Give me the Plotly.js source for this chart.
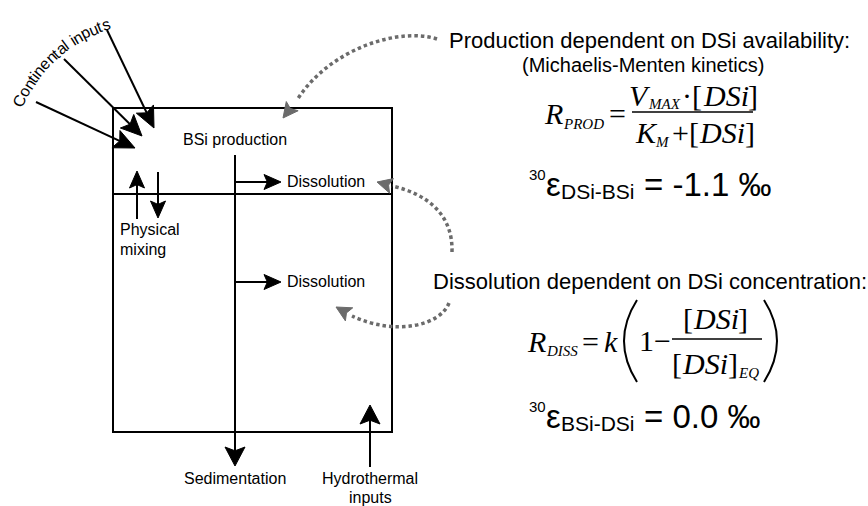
<!DOCTYPE html>
<html><head><meta charset="utf-8">
<script src="https://cdn.plot.ly/plotly-3.0.1.min.js"></script>
<style>html,body{margin:0;padding:0;background:#fff;} #chart{width:868px;height:506px;}</style>
</head><body><div id="chart"></div>
<script>
// ---- content (text) ----
const continentalLabel = "Continental inputs";
const boxLabels = ["BSi production", "Dissolution", "Dissolution"];
const mixingLabel = ["Physical", "mixing"];
const sedimentLabel = ["Sedimentation"];
const hydroLabel = ["Hydrothermal", "inputs"];
const productionNotes = ["Production dependent on DSi availability:", "(Michaelis-Menten kinetics)"];
const dissolutionNotes = ["Dissolution dependent on DSi concentration:"];
const prodSymbols = {lhs: "R", lhsSub: "PROD", vmax: "V", vmaxSub: "MAX", km: "K", kmSub: "M", conc: "DSi"};
const dissSymbols = {lhs: "R", lhsSub: "DISS", rate: "k", one: "1−", conc: "DSi", eqSub: "EQ"};
const epsilonIsotope = ["30", "30"];
const epsilonSubs = ["DSi-BSi", "BSi-DSi"];
const epsilonValues = [-1.1, 0.0];

// ---- drawing helpers ----
const SANS = "Liberation Sans, Arial, Helvetica, sans-serif";
const SERIF = "Liberation Serif, Times New Roman, serif";
const shapes = [], ann = [];
const ctx = document.createElement('canvas').getContext('2d');
function measure(text, size, family, italic) {
  ctx.font = (italic ? 'italic ' : '') + size + "px " + (family === SERIF ? "'Liberation Serif'" : "'Liberation Sans'");
  return ctx.measureText(text).width;
}
function seg(x0, y0, x1, y1, w, color) {
  shapes.push({type: 'line', xref: 'x', yref: 'y', x0, y0, x1, y1,
    line: {color: color || '#000', width: w || 2}});
}
function head(tx, ty, fx, fy, len, hw, color) {
  const dx = tx - fx, dy = ty - fy, L = Math.hypot(dx, dy);
  const ux = dx / L, uy = dy / L, px = -uy, py = ux;
  const bx = tx - ux * len, by = ty - uy * len;
  shapes.push({type: 'path', xref: 'x', yref: 'y',
    path: `M ${tx} ${ty} L ${bx + px * hw} ${by + py * hw} L ${tx - ux * len * 0.8} ${ty - uy * len * 0.8} L ${bx - px * hw} ${by - py * hw} Z`,
    fillcolor: color || '#000', line: {color: color || '#000', width: 1}});
}
function arrow(x0, y0, x1, y1, len, hw, w, color) {
  const dx = x1 - x0, dy = y1 - y0, L = Math.hypot(dx, dy);
  seg(x0, y0, x1 - dx / L * len * 0.7, y1 - dy / L * len * 0.7, w, color);
  head(x1, y1, x0, y0, len, hw, color);
}
function curve(path, tip, base) {
  shapes.push({type: 'path', xref: 'x', yref: 'y', path,
    line: {color: '#6b6b6b', width: 3.5, dash: '3.5px,3px'}});
  head(tip[0], tip[1], base[0], base[1], 15, 7.5, '#6b6b6b');
}
function txt(x, y, text, size, opts) {
  const o = Object.assign({family: SANS, xanchor: 'center'}, opts || {});
  ann.push({xref: 'x', yref: 'y', x, y, text: o.italic ? '<i>' + text + '</i>' : text, showarrow: false,
    xanchor: o.xanchor, yanchor: 'middle', textangle: o.angle || 0, borderpad: 0, borderwidth: 0,
    font: {family: o.family, size, color: '#000'}});
}
// place a run of text pieces side by side: [text, size, italic, dy, gapBefore]
function chain(x, y, pieces, family, anchor) {
  const w = pieces.map(p => measure(p[0], p[1], family, p[2]));
  const total = pieces.reduce((a, p, i) => a + w[i] + (p[4] || 0), 0);
  let cur = anchor === 'center' ? x - total / 2 : x;
  pieces.forEach((p, i) => {
    cur += p[4] || 0;
    txt(cur, y + (p[3] || 0), p[0], p[1], {family, italic: p[2], xanchor: 'left'});
    cur += w[i] + 0.4;
  });
}

// ---- box and internal fluxes ----
shapes.push({type: 'rect', xref: 'x', yref: 'y', x0: 113, y0: 108, x1: 392, y1: 432,
  line: {color: '#000', width: 2}});
seg(113, 194, 392, 194, 2);
arrow(235, 155, 235, 466, 19, 10, 2);              // sedimentation
arrow(370, 467, 370, 405, 19, 10, 2);              // hydrothermal
arrow(235, 182, 281, 182, 17, 7.5, 2);             // upper dissolution
arrow(235, 282, 281, 282, 17, 7.5, 2);             // lower dissolution
arrow(137, 219, 137, 171, 17, 7.5, 2);             // mixing up
arrow(158, 172, 158, 218, 17, 7.5, 2);             // mixing down
arrow(36, 102, 135, 148, 21, 9.5, 2);              // continental 1
arrow(64, 59, 142, 136, 21, 9.5, 2);               // continental 2
arrow(107, 30, 154, 128, 21, 9.5, 2);              // continental 3

// dotted gray arrows
curve('M 437 39 C 400 27, 330 48, 297 100', [283, 118], [297, 100]);
curve('M 452 252 C 453 215, 428 194, 392 186', [377, 182], [392, 186]);
curve('M 449 303 C 440 326, 395 336, 352 316', [336, 307], [352, 316]);

// ---- labels ----
txt(235, 139, boxLabels[0], 16);
txt(287, 181, boxLabels[1], 16, {xanchor: 'left'});
txt(287, 281, boxLabels[2], 16, {xanchor: 'left'});
txt(120, 229, mixingLabel[0], 16, {xanchor: 'left'});
txt(120, 249, mixingLabel[1], 16, {xanchor: 'left'});
txt(235, 478, sedimentLabel[0], 16);
txt(370, 478, hydroLabel[0], 16);
txt(370, 497, hydroLabel[1], 16);

// curved "Continental inputs"
(function () {
  const chars = [...continentalLabel];
  const widths = chars.map(c => measure(c, 16, SANS, false));
  const total = widths.reduce((a, b) => a + b, 0);
  const cx = 152, cy = 163, r = 146, mid = -132 * Math.PI / 180;
  let s = -total / 2;
  chars.forEach((c, i) => {
    const m = s + widths[i] / 2; s += widths[i];
    if (c === ' ') return;
    const th = mid + m / r;
    txt(cx + r * Math.cos(th), cy + r * Math.sin(th), c, 16, {angle: th * 180 / Math.PI + 90});
  });
})();

// ---- right-side notes ----
txt(449, 40, productionNotes[0], 22, {xanchor: 'left'});
txt(643, 65, productionNotes[1], 20);
txt(650, 281, dissolutionNotes[0], 22);

// production equation (Michaelis-Menten)
const P = prodSymbols;
chain(544, 113, [[P.lhs, 30, true], [P.lhsSub, 15, true, 11], ["=", 30, false, 0, 6]], SERIF, 'left');
chain(693, 95, [[P.vmax, 30, true], [P.vmaxSub, 15, true, 9], ["·[", 30, false, 0, 3], [P.conc, 30, true], ["]", 30, false]], SERIF, 'center');
seg(632, 112, 753, 112, 1.5);
chain(694, 132, [[P.km, 30, true], [P.kmSub, 15, true, 10], ["+[", 30, false, 0, 4], [P.conc, 30, true], ["]", 30, false]], SERIF, 'center');

// dissolution equation
const D = dissSymbols;
chain(527, 341, [[D.lhs, 30, true], [D.lhsSub, 15, true, 10], ["=", 30, false, 0, 5], [D.rate, 30, true, 0, 5]], SERIF, 'left');
shapes.push({type: 'path', xref: 'x', yref: 'y', path: 'M 637 300 Q 611 341 637 382', line: {color: '#000', width: 2}});
shapes.push({type: 'path', xref: 'x', yref: 'y', path: 'M 764 300 Q 790 341 764 382', line: {color: '#000', width: 2}});
txt(655, 340, D.one, 30, {family: SERIF});
seg(672, 339, 762, 339, 1.5);
chain(715, 318, [["[", 30, false], [D.conc, 30, true], ["]", 30, false]], SERIF, 'center');
chain(672, 363, [["[", 30, false], [D.conc, 30, true], ["]", 30, false], [D.eqSub, 15, true, 10]], SERIF, 'left');

// isotope fractionation factors
const epsRows = [{x: 529, y: 184}, {x: 529, y: 416}];
epsRows.forEach((p, i) => {
  chain(p.x, p.y, [[epsilonIsotope[i], 15, false, -10], ["ε", 33, false], [epsilonSubs[i], 21, false, 7],
    ["= " + epsilonValues[i].toFixed(1) + " ‰", 33, false, 0, 9]], SANS, 'left');
});

Plotly.newPlot('chart', [], {
  width: 868, height: 506, margin: {l: 0, r: 0, t: 0, b: 0},
  paper_bgcolor: '#fff', plot_bgcolor: '#fff', showlegend: false,
  xaxis: {range: [0, 868], visible: false, fixedrange: true},
  yaxis: {range: [506, 0], visible: false, fixedrange: true},
  shapes, annotations: ann
}, {displayModeBar: false, staticPlot: true});
</script></body></html>
